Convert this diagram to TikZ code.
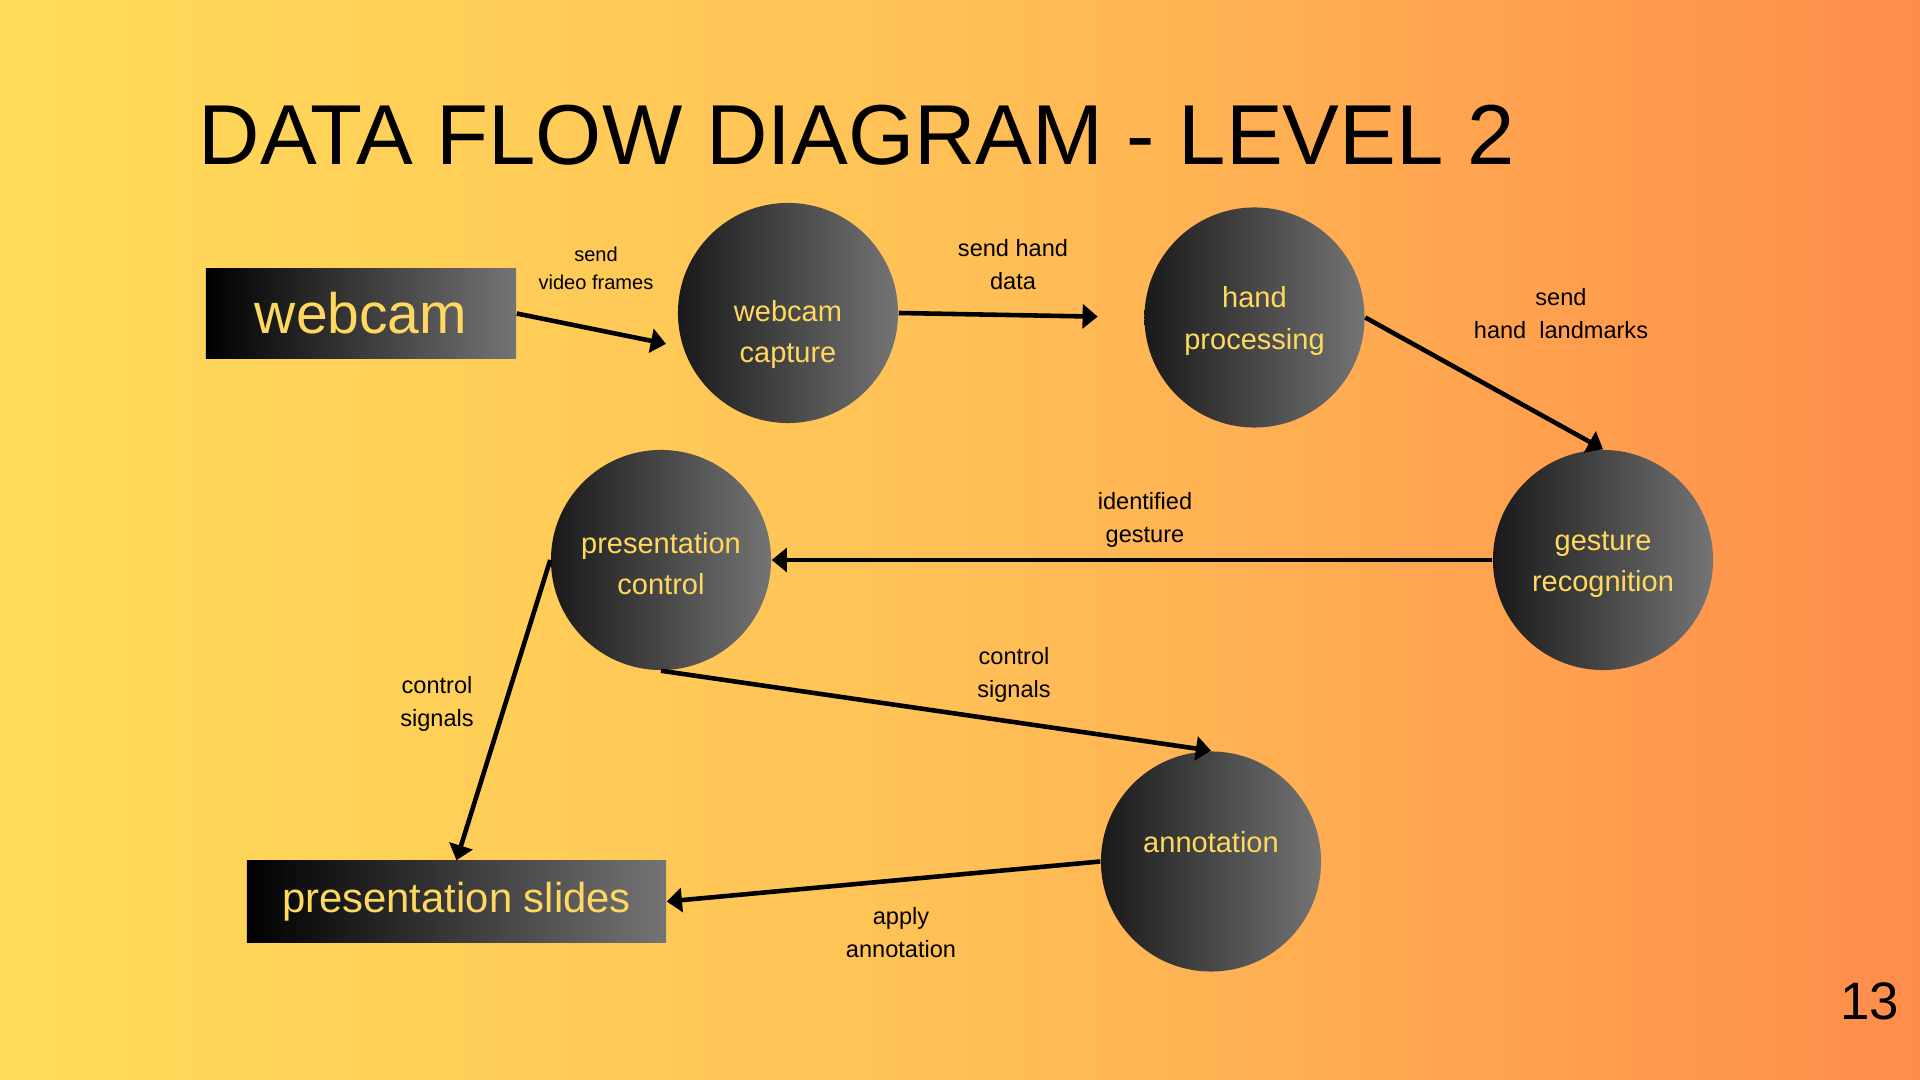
\documentclass[tikz,border=0pt]{standalone}
\usepackage{fontspec}
\setmainfont{Liberation Sans}
\usepackage{tikz}
\usetikzlibrary{arrows.meta}
\definecolor{bgyellow}{RGB}{255,220,90}
\definecolor{bgmid}{RGB}{255,192,86}
\definecolor{bgorange}{RGB}{255,140,75}
\definecolor{txtyellow}{RGB}{255,217,95}
\definecolor{shadegray}{RGB}{116,116,116}
\tikzset{
  proc/.style={circle, minimum size=2.2cm, inner sep=0pt, left color=black!90, right color=shadegray, text=txtyellow, align=center, text height=19.8pt, font=\fontsize{8.25}{11.8}\selectfont},
  proctxt/.style={text=txtyellow, align=center, font=\fontsize{8.25}{11.8}\selectfont},
  ext/.style={rectangle, inner sep=0pt, left color=black, right color=shadegray, text=txtyellow},
  flow/.style={line width=1.3pt, -{Triangle[length=4.3pt,width=6.8pt]}},
  lbl/.style={align=center, inner sep=0pt, font=\fontsize{6.7}{9.4}\selectfont},
}
\begin{document}
\begin{tikzpicture}[x=0.01cm, y=-0.01cm]
\useasboundingbox (0,0) rectangle (1920,1080);
\shade[left color=bgyellow, right color=bgorange, middle color=bgmid] (0,0) rectangle (1920,1080);

\node[anchor=base west, inner sep=0pt, font=\fontsize{24.2}{29}\selectfont] (title) at (198,165) {DATA FLOW DIAGRAM - LEVEL 2};
\node[anchor=base east, inner sep=0pt, font=\fontsize{15}{18}\selectfont] (pageno) at (1900,1020) {13};

\node[ext, minimum width=3.1cm, minimum height=0.89cm, font=\fontsize{16.2}{19}\selectfont] (webcam) at (361,313.5) {webcam};
\node[proc, label={[proctxt, yshift=-0.215cm]center:webcam\\capture}] (wcap) at (788,313) {};
\node[proc] (hp) at (1254.5,317.5) {hand\\processing};
\node[proc] (gr) at (1603,560) {gesture\\recognition};
\node[proc] (pc) at (661,560) {presentation\\control};
\node[proc, label={[proctxt, yshift=0.19cm]center:annotation}] (ann) at (1211,861.5) {};
\node[ext, minimum width=4.19cm, minimum height=0.81cm, font=\fontsize{11.9}{14}\selectfont] (slides) at (456.5,901.5) {presentation slides};

\draw[flow, shorten >=0.17cm] (webcam.east) -- (wcap.198);
\draw[flow, shorten >=0.46cm] (wcap.east) -- (hp.west);
\draw[flow] (hp.east) -- (gr.north);
\draw[flow] (gr.west) -- (pc.east);
\draw[flow] (pc.south) -- (ann.north);
\draw[flow] (pc.west) -- (slides.north);
\draw[flow] (ann.west) -- (slides.east);

\node[lbl, font=\fontsize{5.7}{8}\selectfont] (lframes) at (596,268) {send\\video frames};
\node[lbl] (lhand) at (1013,265) {send hand\\data};
\node[lbl] (lmarks) at (1561,314) {send\\hand\ \ landmarks};
\node[lbl] (lgest) at (1145,519.5) {identified\\gesture};
\node[lbl] (lsigr) at (1014,674.5) {control\\signals};
\node[lbl] (lsigl) at (437,703.5) {control\\signals};
\node[lbl] (lapply) at (901,933) {apply\\annotation};
\end{tikzpicture}
\end{document}
